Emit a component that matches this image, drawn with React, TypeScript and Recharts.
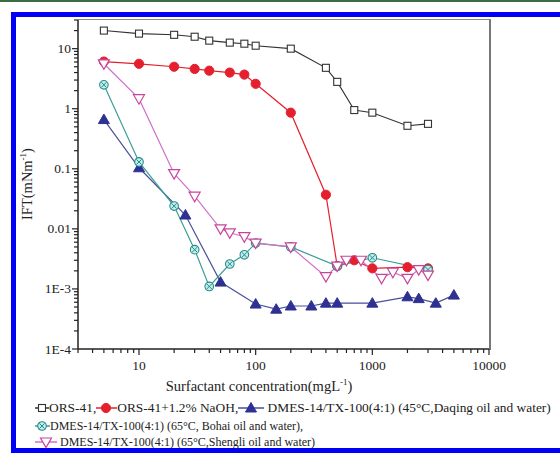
import React from 'react';
import { LineChart, Line, XAxis, YAxis, Label } from 'recharts';

// ---------- data ----------
const xORS = [5, 10, 20, 30, 40, 60, 80, 100, 200, 400, 500, 700, 1000, 2000, 3000];
const yORS = [20, 17.8, 17, 15.8, 13.6, 12.6, 12.1, 11.2, 10, 4.8, 2.8, 0.95, 0.86, 0.52, 0.56];

const xNaOH = [5, 10, 20, 30, 40, 60, 80, 100, 200, 400, 500, 700, 1000, 2000, 3000];
const yNaOH = [6.1, 5.6, 5.0, 4.6, 4.3, 4.0, 3.7, 2.6, 0.86, 0.037, 0.0024, 0.003, 0.0022, 0.0023, 0.0022];

const xDaqing = [5, 10, 25, 50, 100, 150, 200, 300, 400, 500, 1000, 2000, 2500, 3500, 5000];
const yDaqing = [0.66, 0.104, 0.017, 0.0013, 0.00056, 0.00046, 0.00052, 0.00052, 0.00058, 0.00058, 0.00058, 0.00074, 0.00069, 0.00058, 0.00079];

const xBohai = [5, 10, 20, 30, 40, 60, 80, 100, 200, 500, 1000, 3000];
const yBohai = [2.5, 0.13, 0.024, 0.0045, 0.0011, 0.0026, 0.0037, 0.0058, 0.005, 0.0024, 0.0033, 0.0021];

const xShengli = [5, 10, 20, 30, 50, 60, 80, 100, 200, 400, 500, 600, 800, 1200, 1500, 2000, 2500, 3000];
const yShengli = [5.6, 1.47, 0.083, 0.035, 0.01, 0.0086, 0.0074, 0.0058, 0.005, 0.0016, 0.0024, 0.003, 0.003, 0.0015, 0.0019, 0.0015, 0.0021, 0.0017];

const seriesNames = [
  'ORS-41,',
  'ORS-41+1.2% NaOH,',
  ' DMES-14/TX-100(4:1) (45°C,Daqing oil and water)',
  'DMES-14/TX-100(4:1) (65°C, Bohai oil and water),',
  ' DMES-14/TX-100(4:1) (65°C,Shengli oil and water)',
];

const majorX = [10, 100, 1000, 10000];
const majorXLabels = ['10', '100', '1000', '10000'];
const majorY = [1e-4, 1e-3, 0.01, 0.1, 1, 10];
const majorYLabels = ['1E-4', '1E-3', '0.01', '0.1', '1', '10'];

const xLabel = 'Surfactant concentration(mgL';
const yLabel = 'IFT(mNm';

// ---------- helpers ----------
const FONT = "'Liberation Serif', Tinos, 'DejaVu Serif', serif";
const pts = (xs: number[], ys: number[]) => xs.map((x, i) => ({ x, y: ys[i] }));

const buildTicks = (lo: number, hi: number) => {
  const out: number[] = [];
  for (let e = -4; e <= 4; e++) {
    const d = Math.pow(10, e);
    for (let m = 1; m <= 9; m++) {
      const v = m * d;
      if (v >= lo * 0.999 && v <= hi * 1.001) out.push(v);
    }
  }
  return out;
};
const xTicks = buildTicks(3, 10000);
const yTicks = buildTicks(1e-4, 30);
const findMajor = (arr: number[], v: number) => arr.findIndex((m) => Math.abs(m - v) / m < 1e-6);

const C = {
  ors: '#333333',
  naoh: '#e5202e',
  daqing: '#2e3192',
  daqingLine: '#4a4f9c',
  bohai: '#2a8a86',
  bohaiLine: '#3a9e96',
  shengli: '#c8449c',
  shengliLine: '#d070c8',
};

const Marker = ({ kind, cx, cy }: { kind: number; cx: number; cy: number }) => {
  if (kind === 0)
    return <rect x={cx - 3.5} y={cy - 3.5} width={7} height={7} fill="#fff" stroke={C.ors} strokeWidth={1.1} />;
  if (kind === 1) return <circle cx={cx} cy={cy} r={4.6} fill={C.naoh} stroke={C.naoh} />;
  if (kind === 2)
    return (
      <polygon
        points={`${cx},${cy - 5.5} ${cx - 5.5},${cy + 4} ${cx + 5.5},${cy + 4}`}
        fill={C.daqing}
        stroke={C.daqing}
      />
    );
  if (kind === 3)
    return (
      <g>
        <circle cx={cx} cy={cy} r={4.3} fill="#bfeeee" stroke={C.bohai} strokeWidth={1.1} />
        <line x1={cx - 2.6} y1={cy - 2.6} x2={cx + 2.6} y2={cy + 2.6} stroke={C.bohai} strokeWidth={1} />
        <line x1={cx - 2.6} y1={cy + 2.6} x2={cx + 2.6} y2={cy - 2.6} stroke={C.bohai} strokeWidth={1} />
      </g>
    );
  return (
    <polygon
      points={`${cx - 5.5},${cy - 4} ${cx + 5.5},${cy - 4} ${cx},${cy + 5.5}`}
      fill="#fff"
      stroke={C.shengli}
      strokeWidth={1.2}
    />
  );
};

const makeDot = (kind: number) => (p: any) => (
  <Marker key={`m${kind}-${p.index}`} kind={kind} cx={p.cx} cy={p.cy} />
);

const XTick = (props: any) => {
  const { x, y, payload } = props;
  const idx = findMajor(majorX, payload.value);
  const major = idx >= 0;
  return (
    <g>
      <line x1={x} x2={x} y1={y} y2={y + (major ? 6 : 4)} stroke="#222" strokeWidth={1.2} />
      {major && (
        <text x={x} y={y + 21} textAnchor="middle" style={{ fontFamily: FONT }} fontSize={13.5} fill="#222">
          {majorXLabels[idx]}
        </text>
      )}
    </g>
  );
};

const YTick = (props: any) => {
  const { x, y, payload } = props;
  const idx = findMajor(majorY, payload.value);
  const major = idx >= 0;
  return (
    <g>
      <line x1={x - (major ? 6 : 4)} x2={x} y1={y} y2={y} stroke="#222" strokeWidth={1.2} />
      {major && (
        <text x={x - 7} y={y + 4.5} textAnchor="end" style={{ fontFamily: FONT }} fontSize={13.5} fill="#222">
          {majorYLabels[idx]}
        </text>
      )}
    </g>
  );
};

const XLabelContent = () => (
  <text x={259} y={391} textAnchor="middle" style={{ fontFamily: FONT }} fontSize={14.5} fill="#222">
    <tspan>{xLabel}</tspan>
    <tspan dy={-6} fontSize={9}>-1</tspan>
    <tspan dy={6}>)</tspan>
  </text>
);

const YLabelContent = () => (
  <text
    x={0}
    y={0}
    transform="translate(32,184) rotate(-90)"
    textAnchor="middle"
    style={{ fontFamily: FONT }}
    fontSize={14.5}
    fill="#222"
  >
    <tspan>{yLabel}</tspan>
    <tspan dy={-6} fontSize={9}>-1</tspan>
    <tspan dy={6}>)</tspan>
  </text>
);

const LegendIcon = ({ kind, w, mx, line }: { kind: number; w: number; mx: number; line: string }) => (
  <svg width={w} height={14} style={{ display: 'inline-block', verticalAlign: 'middle', overflow: 'visible' }}>
    <line x1={0} x2={w} y1={7} y2={7} stroke={line} strokeWidth={1.5} />
    <Marker kind={kind} cx={mx} cy={7} />
  </svg>
);

const lineColors = [C.ors, C.naoh, C.daqingLine, C.bohaiLine, C.shengliLine];

const LegendItem = ({ k, w, mx }: { k: number; w: number; mx: number }) => (
  <span style={{ whiteSpace: 'nowrap' }}>
    <LegendIcon kind={k} w={w} mx={mx} line={lineColors[k]} />
    <span style={{ verticalAlign: 'middle' }}>{seriesNames[k]}</span>
  </span>
);

export default function App() {
  const legendStyle: React.CSSProperties = {
    position: 'absolute',
    left: 35,
    fontFamily: FONT,
    fontSize: 12,
    color: '#222',
    lineHeight: '14px',
    whiteSpace: 'nowrap',
  };
  return (
    <div style={{ position: 'absolute', left: 0, top: 0, width: 560, height: 453, overflow: 'hidden', background: '#fff' }}>
      {/* outer frame */}
      <div style={{ position: 'absolute', left: 0, top: 0, width: 560, height: 2, background: '#3d6b47' }} />
      <div
        style={{
          position: 'absolute',
          left: 11,
          top: 12,
          width: 600,
          height: 441,
          boxSizing: 'border-box',
          border: '5px solid #0000f5',
        }}
      />
      {/* plot frame (top/right) */}
      <div
        style={{
          position: 'absolute',
          left: 78,
          top: 19,
          width: 411,
          height: 330,
          borderTop: '1px solid #888',
          borderRight: '2px solid #777',
        }}
      />
      <div style={{ position: 'absolute', left: 0, top: 0 }}>
        <LineChart width={560} height={453} margin={{ top: 20, right: 71, bottom: 0, left: 0 }}>
          <XAxis
            type="number"
            dataKey="x"
            scale="log"
            domain={[3, 10000]}
            allowDataOverflow
            ticks={xTicks}
            interval={0}
            tick={<XTick />}
            tickLine={false}
            tickSize={0}
            tickMargin={0}
            height={104}
            axisLine={{ stroke: '#222', strokeWidth: 1.5 }}
          >
            <Label content={<XLabelContent />} />
          </XAxis>
          <YAxis
            type="number"
            dataKey="y"
            scale="log"
            domain={[1e-4, 30]}
            allowDataOverflow
            ticks={yTicks}
            interval={0}
            tick={<YTick />}
            tickLine={false}
            tickSize={0}
            tickMargin={0}
            width={78}
            axisLine={{ stroke: '#222', strokeWidth: 1.5 }}
          >
            <Label content={<YLabelContent />} />
          </YAxis>
          <Line
            data={pts(xORS, yORS)}
            dataKey="y"
            type="linear"
            stroke={C.ors}
            strokeWidth={1.1}
            dot={makeDot(0)}
            isAnimationActive={false}
          />
          <Line
            data={pts(xNaOH, yNaOH)}
            dataKey="y"
            type="linear"
            stroke={C.naoh}
            strokeWidth={1.2}
            dot={makeDot(1)}
            isAnimationActive={false}
          />
          <Line
            data={pts(xDaqing, yDaqing)}
            dataKey="y"
            type="linear"
            stroke={C.daqingLine}
            strokeWidth={1.2}
            dot={makeDot(2)}
            isAnimationActive={false}
          />
          <Line
            data={pts(xBohai, yBohai)}
            dataKey="y"
            type="linear"
            stroke={C.bohaiLine}
            strokeWidth={1.2}
            dot={makeDot(3)}
            isAnimationActive={false}
          />
          <Line
            data={pts(xShengli, yShengli)}
            dataKey="y"
            type="linear"
            stroke={C.shengliLine}
            strokeWidth={1.2}
            dot={makeDot(4)}
            isAnimationActive={false}
          />
        </LineChart>
      </div>
      {/* legend */}
      <div style={{ ...legendStyle, top: 400, fontSize: 13.4 }}>
        <LegendItem k={0} w={14} mx={7} />
        <LegendItem k={1} w={21} mx={10} />
        <LegendItem k={2} w={26} mx={13} />
      </div>
      <div style={{ ...legendStyle, top: 418 }}>
        <LegendItem k={3} w={15} mx={7} />
      </div>
      <div style={{ ...legendStyle, top: 434 }}>
        <LegendItem k={4} w={22} mx={11} />
      </div>
    </div>
  );
}
